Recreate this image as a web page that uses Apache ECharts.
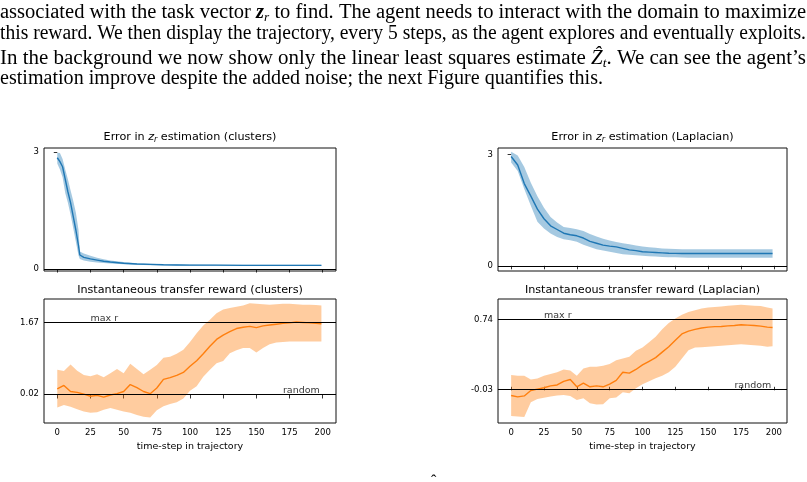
<!DOCTYPE html>
<html>
<head>
<meta charset="utf-8">
<script src="https://cdn.jsdelivr.net/npm/echarts@6.0.0/dist/echarts.min.js"></script>
<style>
html, body { margin: 0; padding: 0; background: #fff; }
#main { width: 807px; height: 482px; }
</style>
</head>
<body>
<div id="main"></div>
<script>
// time-steps (x) shared by most series
var steps = [0,5,10,15,20,25,30,35,40,45,50,55,60,65,70,75,80,85,90,95,100,105,110,115,120,125,130,135,140,145,150,155,160,165,170,175,180,185,190,195,199];
var xTicks = [0,25,50,75,100,125,150,175,200];

// error in z_r estimation (clusters) - finer steps at the start
var errStepsClusters = [0,2,4,6,8,10,12,14,16,17,20,25,30,35,40,50,60,70,80,90,100,120,140,160,180,199];
var errMeanClusters = [2.85,2.75,2.62,2.30,1.98,1.70,1.35,1.00,0.60,0.36,0.30,0.26,0.23,0.20,0.18,0.15,0.13,0.12,0.11,0.105,0.10,0.10,0.095,0.095,0.095,0.095];
var errHiClusters = [2.98,2.97,2.82,2.55,2.30,2.02,1.75,1.45,1.00,0.45,0.40,0.34,0.29,0.25,0.22,0.18,0.15,0.135,0.125,0.12,0.115,0.11,0.11,0.11,0.11,0.11];
var errLoClusters = [2.70,2.55,2.35,1.95,1.70,1.40,1.05,0.70,0.35,0.26,0.22,0.19,0.17,0.155,0.14,0.12,0.11,0.10,0.09,0.09,0.085,0.085,0.08,0.08,0.08,0.08];

// error in z_r estimation (Laplacian)
var errMeanLaplacian = [2.95,2.72,2.22,1.88,1.53,1.27,1.08,0.98,0.88,0.84,0.81,0.75,0.66,0.61,0.56,0.53,0.51,0.47,0.43,0.41,0.38,0.37,0.36,0.35,0.34,0.335,0.333,0.332,0.333,0.332,0.332,0.333,0.333,0.332,0.332,0.333,0.333,0.332,0.333,0.333,0.333];
var errHiLaplacian = [3.08,2.98,2.67,2.24,1.88,1.57,1.32,1.17,1.05,1.02,0.99,0.94,0.86,0.79,0.73,0.68,0.645,0.61,0.58,0.55,0.52,0.50,0.485,0.47,0.46,0.455,0.45,0.45,0.45,0.45,0.45,0.45,0.45,0.45,0.45,0.45,0.45,0.45,0.45,0.45,0.45];
var errLoLaplacian = [2.79,2.56,2.07,1.62,1.19,1.01,0.87,0.78,0.72,0.69,0.65,0.57,0.51,0.45,0.41,0.38,0.345,0.315,0.30,0.285,0.27,0.26,0.25,0.24,0.234,0.228,0.222,0.218,0.216,0.216,0.216,0.216,0.216,0.216,0.216,0.216,0.216,0.216,0.216,0.216,0.216];

// instantaneous transfer reward (clusters)
var rewMeanClusters = [0.14,0.22,0.08,0.06,0.02,-0.03,-0.01,-0.05,0.0,0.03,0.08,0.24,0.17,0.08,0.03,0.16,0.36,0.40,0.45,0.52,0.66,0.79,0.95,1.12,1.28,1.38,1.46,1.53,1.56,1.58,1.55,1.59,1.61,1.63,1.65,1.66,1.68,1.67,1.66,1.65,1.64];
var rewHiClusters = [0.58,0.55,0.70,0.56,0.46,0.43,0.48,0.41,0.50,0.60,0.50,0.72,0.60,0.48,0.58,0.69,0.86,0.88,0.95,1.04,1.22,1.42,1.60,1.73,1.88,1.97,2.00,2.03,2.06,2.11,2.10,2.09,2.08,2.09,2.10,2.10,2.09,2.08,2.08,2.07,2.06];
var rewLoClusters = [-0.29,-0.23,-0.27,-0.33,-0.38,-0.41,-0.40,-0.34,-0.30,-0.34,-0.38,-0.41,-0.46,-0.50,-0.52,-0.35,-0.26,-0.21,-0.17,-0.08,0.10,0.20,0.42,0.58,0.73,0.78,0.96,1.03,1.08,1.08,0.98,1.08,1.17,1.21,1.22,1.23,1.23,1.23,1.23,1.23,1.23];
var maxRClusters = 1.67;
var randomClusters = 0.02;

// instantaneous transfer reward (Laplacian)
var rewMeanLaplacian = [-0.095,-0.11,-0.10,-0.04,-0.025,-0.01,0.01,0.02,0.06,0.08,0.0,0.04,0.0,0.01,0.0,0.03,0.07,0.16,0.15,0.19,0.24,0.28,0.32,0.38,0.44,0.51,0.58,0.61,0.63,0.645,0.655,0.66,0.662,0.668,0.672,0.68,0.677,0.672,0.665,0.655,0.65];
var rewHiLaplacian = [0.13,0.12,0.12,0.08,0.09,0.12,0.14,0.16,0.19,0.18,0.12,0.20,0.22,0.22,0.23,0.25,0.29,0.31,0.33,0.395,0.43,0.49,0.55,0.63,0.70,0.75,0.79,0.82,0.84,0.86,0.87,0.875,0.88,0.89,0.895,0.90,0.895,0.89,0.885,0.87,0.86];
var rewLoLaplacian = [-0.32,-0.325,-0.33,-0.17,-0.135,-0.12,-0.107,-0.096,-0.089,-0.10,-0.144,-0.126,-0.18,-0.195,-0.19,-0.126,-0.118,-0.06,-0.07,-0.016,0.028,0.06,0.094,0.12,0.16,0.22,0.31,0.40,0.43,0.435,0.44,0.445,0.45,0.455,0.46,0.468,0.46,0.455,0.45,0.44,0.445];
var maxRLaplacian = 0.74;
var randomLaplacian = -0.03;

var blue = '#1f77b4', blueBand = 'rgba(31,119,180,0.4)';
var orange = '#ff7f0e', orangeBand = 'rgba(255,127,14,0.4)';
var sans = "'DejaVu Sans', sans-serif";
var serif = "'Liberation Serif', 'DejaVu Serif', serif";

// paragraph text above the figure
var paperLines = [
  { y: 13, w: 806, parts: [['n', 'associated with the task vector '], ['bi', 'z'], ['sub', 'r'], ['n', ' to find. The agent needs to interact with the domain to maximize']] },
  { y: 34, w: 806, parts: [['n', 'this reward. We then display the trajectory, every 5 steps, as the agent explores and eventually exploits.']] },
  { y: 59, w: 806, parts: [['n', 'In the background we now show only the linear least squares estimate '], ['it', '\u1E90'], ['sub', 't'], ['n', '. We can see the agent\u2019s']] },
  { y: 79, w: 603, parts: [['n', 'estimation improve despite the added noise; the next Figure quantifies this.']] }
];
var paperRich = {
  n: { fontSize: 20, fontFamily: serif, lineHeight: 23, color: '#000' },
  bi: { fontSize: 20, fontFamily: serif, fontStyle: 'italic', fontWeight: 'bold', lineHeight: 23, color: '#000' },
  it: { fontSize: 20, fontFamily: serif, fontStyle: 'italic', lineHeight: 23, color: '#000' },
  sub: { fontSize: 13, fontFamily: serif, fontStyle: 'italic', lineHeight: 15, verticalAlign: 'bottom', color: '#000' }
};

var ctx = document.createElement('canvas').getContext('2d');
function cssFont(s) {
  return (s.fontStyle || 'normal') + ' ' + (s.fontWeight || 'normal') + ' ' + s.fontSize + 'px ' + s.fontFamily;
}
var graphics = paperLines.map(function (line) {
  var width = 0, text = '';
  line.parts.forEach(function (p) {
    ctx.font = cssFont(paperRich[p[0]]);
    width += ctx.measureText(p[1]).width;
    text += '{' + p[0] + '|' + p[1] + '}';
  });
  return {
    type: 'text', x: 0, y: line.y, scaleX: line.w / width, silent: true,
    style: { text: text, rich: paperRich, verticalAlign: 'middle', align: 'left' }
  };
});
// hat of the next line's symbol, cut off at the bottom
graphics.push({ type: 'text', x: 431, y: 474, silent: true,
  style: { text: '\u02C6', font: '16px ' + serif, fill: '#000', verticalAlign: 'top' } });

function pairs(xs, ys) {
  return xs.map(function (x, i) { return [x, ys[i]]; });
}

function band(idx, xs, lo, hi, color) {
  return {
    type: 'custom', xAxisIndex: idx, yAxisIndex: idx, silent: true, z: 1,
    data: [[xs[0], lo[0]]],
    renderItem: function (params, api) {
      var pts = [];
      for (var i = 0; i < xs.length; i++) pts.push(api.coord([xs[i], hi[i]]));
      for (var j = xs.length - 1; j >= 0; j--) pts.push(api.coord([xs[j], lo[j]]));
      return { type: 'polygon', shape: { points: pts }, style: { fill: color } };
    }
  };
}

function meanLine(idx, xs, ys, color, hlines) {
  return {
    type: 'line', xAxisIndex: idx, yAxisIndex: idx, z: 3,
    data: pairs(xs, ys), symbol: 'none',
    lineStyle: { color: color, width: 1.4 },
    markLine: {
      silent: true, symbol: 'none', label: { show: false },
      lineStyle: { color: '#000', width: 1, type: 'solid' },
      data: hlines.map(function (v) { return { yAxis: v }; })
    }
  };
}

function notes(idx, maxR, rnd) {
  return {
    type: 'scatter', xAxisIndex: idx, yAxisIndex: idx, z: 4, silent: true,
    symbolSize: 0,
    data: [{ value: [25, maxR], name: 'max r' }, { value: [170, rnd], name: 'random' }],
    label: {
      show: true, formatter: '{b}', position: 'insideBottomLeft', distance: 0,
      offset: [0, 1], fontSize: 9.5, fontFamily: sans, color: '#000'
    }
  };
}

var grids = [
  { left: 44, top: 148, width: 292, height: 123 },
  { left: 498, top: 148, width: 289, height: 123 },
  { left: 44, top: 299, width: 292, height: 124 },
  { left: 498, top: 299, width: 289, height: 124 }
].map(function (g) {
  g.show = true; g.borderColor = '#111'; g.borderWidth = 1; g.backgroundColor = 'transparent';
  return g;
});

function xAxis(idx, showLabels) {
  return {
    type: 'value', gridIndex: idx, min: -10, max: 210,
    axisLine: { show: false }, splitLine: { show: false },
    axisTick: { show: true, length: 3.5, customValues: xTicks, lineStyle: { color: '#000', width: 0.8 } },
    axisLabel: { show: showLabels, customValues: xTicks, fontSize: 8.5, fontFamily: sans, color: '#000', margin: 5 },
    name: showLabels ? 'time-step in trajectory' : '',
    nameLocation: 'middle', nameGap: 19,
    nameTextStyle: { fontSize: 9.5, fontFamily: sans, color: '#000' }
  };
}
function yAxis(idx, min, max, ticks) {
  return {
    type: 'value', gridIndex: idx, min: min, max: max,
    axisLine: { show: false }, splitLine: { show: false },
    axisTick: { show: true, length: 3.5, customValues: ticks, lineStyle: { color: '#000', width: 0.8 } },
    axisLabel: { customValues: ticks, fontSize: 8.5, fontFamily: sans, color: '#000', margin: 5 }
  };
}

var titleRich = {
  i: { fontSize: 11.2, fontFamily: sans, fontStyle: 'italic', color: '#000', lineHeight: 14 },
  s: { fontSize: 8, fontFamily: sans, fontStyle: 'italic', color: '#000', lineHeight: 10, verticalAlign: 'bottom' }
};
function title(text, cx, cy) {
  return {
    text: text, left: cx, top: cy, padding: 0, textAlign: 'center', textVerticalAlign: 'middle',
    textStyle: { fontSize: 11.2, fontWeight: 'normal', fontFamily: sans, color: '#000', lineHeight: 14, rich: titleRich }
  };
}

var chart = echarts.init(document.getElementById('main'));
chart.setOption({
  animation: false,
  backgroundColor: '#fff',
  graphic: graphics,
  title: [
    title('Error in {i|z}{s|r} estimation (clusters)', 190, 137),
    title('Error in {i|z}{s|r} estimation (Laplacian)', 642.5, 137),
    title('Instantaneous transfer reward (clusters)', 190, 290),
    title('Instantaneous transfer reward (Laplacian)', 642.5, 290)
  ],
  grid: grids,
  xAxis: [xAxis(0, false), xAxis(1, false), xAxis(2, true), xAxis(3, true)],
  yAxis: [
    yAxis(0, -0.05, 3.1, [0, 3]),
    yAxis(1, -0.14, 3.18, [0, 3]),
    yAxis(2, -0.645, 2.21, [randomClusters, maxRClusters]),
    yAxis(3, -0.397, 0.963, [randomLaplacian, maxRLaplacian])
  ],
  series: [
    band(0, errStepsClusters, errLoClusters, errHiClusters, blueBand),
    meanLine(0, errStepsClusters, errMeanClusters, blue, [0]),
    band(1, steps, errLoLaplacian, errHiLaplacian, blueBand),
    meanLine(1, steps, errMeanLaplacian, blue, [0]),
    band(2, steps, rewLoClusters, rewHiClusters, orangeBand),
    meanLine(2, steps, rewMeanClusters, orange, [maxRClusters, randomClusters]),
    notes(2, maxRClusters, randomClusters),
    band(3, steps, rewLoLaplacian, rewHiLaplacian, orangeBand),
    meanLine(3, steps, rewMeanLaplacian, orange, [maxRLaplacian, randomLaplacian]),
    notes(3, maxRLaplacian, randomLaplacian)
  ]
});
</script>
</body>
</html>
